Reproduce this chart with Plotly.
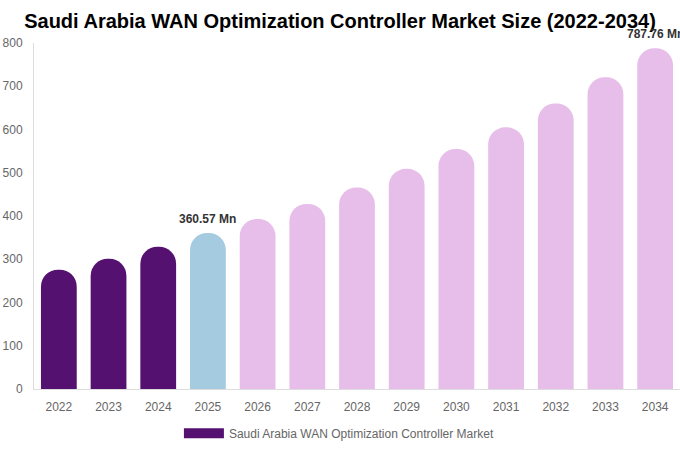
import plotly.graph_objects as go

years = ["2022", "2023", "2024", "2025", "2026", "2027", "2028",
         "2029", "2030", "2031", "2032", "2033", "2034"]
values = [276, 301, 329, 360.57, 393, 428, 466, 509, 555, 605, 660, 721, 787.76]
colors = ["#55116f"] * 3 + ["#a4cbdf"] + ["#e7bde9"] * 9
labeled = {"2025": "360.57 Mn", "2034": "787.76 Mn"}
series_name = "Saudi Arabia WAN Optimization Controller Market"
title = "Saudi Arabia WAN Optimization Controller Market Size (2022-2034)"
y_ticks = [0, 100, 200, 300, 400, 500, 600, 700, 800]

fig = go.Figure()
fig.add_trace(go.Bar(
    x=years, y=values, marker=dict(color=colors, line=dict(width=0)),
    width=0.72, showlegend=False, hoverinfo="x+y",
))
fig.add_trace(go.Scatter(
    x=[years[0]], y=[None], mode="lines", name=series_name,
    line=dict(color="#55116f", width=12), showlegend=True,
))

for yr, txt in labeled.items():
    i = years.index(yr)
    fig.add_annotation(x=i, y=values[i], text="<b>" + txt + "</b>", showarrow=False,
                       yanchor="bottom", yshift=5,
                       font=dict(size=12, color="#333333", family="Liberation Sans, Arial"))

fig.update_layout(
    width=680, height=450,
    margin=dict(l=34, r=0, t=43, b=61, autoexpand=False),
    paper_bgcolor="white", plot_bgcolor="white",
    barcornerradius="50%",
    font=dict(family="Liberation Sans, Arial", color="#666666", size=12),
    title=dict(text="<b>" + title + "</b>", x=0.5, xanchor="center", y=0.953, yanchor="middle",
               font=dict(size=20, color="#000000", family="Liberation Sans, Arial")),
    legend=dict(orientation="h", x=0.472, xanchor="center", y=-0.128, yanchor="middle",
                itemwidth=40, font=dict(size=12, color="#666666")),
    xaxis=dict(type="category", range=[-0.5, len(years) - 0.5], showline=True,
               linecolor="#dddddd", linewidth=1, showgrid=False, ticklabelstandoff=7,
               ticks="", tickfont=dict(size=12, color="#666666"), automargin=False),
    yaxis=dict(range=[0, 800], tickvals=y_ticks, showline=True, linecolor="#dddddd",
               linewidth=1, showgrid=False, zeroline=False, ticks="", automargin=False,
               ticklabelstandoff=8,
               tickfont=dict(size=12, color="#666666")),
)

fig.write_html("out.html", config={"displayModeBar": False},
               post_script="document.body.style.margin='0';document.body.style.overflow='hidden';")
